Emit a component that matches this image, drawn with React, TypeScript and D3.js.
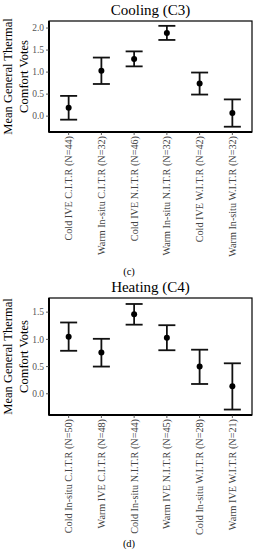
import React from "react";
import * as d3 from "d3";

const coolingCategories = [
  "Cold IVE C.I.T.R (N=44)",
  "Warm In-situ C.I.T.R (N=32)",
  "Cold IVE N.I.T.R (N=46)",
  "Warm In-situ N.I.T.R (N=32)",
  "Cold IVE W.I.T.R (N=42)",
  "Warm In-situ W.I.T.R (N=32)",
];
const coolingMeans = [0.19, 1.03, 1.3, 1.89, 0.74, 0.07];
const coolingLower = [-0.08, 0.73, 1.13, 1.73, 0.49, -0.24];
const coolingUpper = [0.46, 1.33, 1.47, 2.05, 0.99, 0.38];
const coolingTicks = [0.0, 0.5, 1.0, 1.5, 2.0];

const heatingCategories = [
  "Cold In-situ C.I.T.R (N=50)",
  "Warm IVE C.I.T.R (N=48)",
  "Cold In-situ N.I.T.R (N=44)",
  "Warm IVE N.I.T.R (N=45)",
  "Cold In-situ W.I.T.R (N=28)",
  "Warm IVE W.I.T.R (N=21)",
];
const heatingMeans = [1.05, 0.76, 1.46, 1.03, 0.5, 0.14];
const heatingLower = [0.79, 0.5, 1.27, 0.8, 0.18, -0.29];
const heatingUpper = [1.31, 1.01, 1.65, 1.26, 0.81, 0.56];
const heatingTicks = [0.0, 0.5, 1.0, 1.5];

const FONT = "'Liberation Serif', 'Times New Roman', 'DejaVu Serif', serif";

type PanelProps = {
  title: string;
  caption: string;
  categories: string[];
  means: number[];
  lower: number[];
  upper: number[];
  ticks: number[];
  domain: [number, number];
  top: number;
  bottom: number;
  titleY: number;
  captionY: number;
};

function Panel(p: PanelProps) {
  const left = 49;
  const right = 252;
  const x = d3.scalePoint<string>().domain(p.categories).range([left, right]).padding(0.6);
  const y = d3.scaleLinear().domain(p.domain).range([p.bottom, p.top]);
  const cx = (left + right) / 2;
  const cy = (p.top + p.bottom) / 2;
  const cap = 8.5;
  return (
    <g>
      <text x={cx} y={p.titleY} textAnchor="middle" fontSize={15} fontFamily={FONT} fill="#000">
        {p.title}
      </text>
      <rect x={left} y={p.top} width={right - left} height={p.bottom - p.top} fill="none" stroke="#000" strokeWidth={1.2} />
      <line x1={left} x2={left} y1={p.top} y2={p.bottom + 0.5} stroke="#000" strokeWidth={2} />
      <line x1={left} x2={right} y1={p.bottom} y2={p.bottom} stroke="#000" strokeWidth={2} />
      {p.ticks.map((t) => (
        <g key={t}>
          <line x1={left - 3} x2={left} y1={y(t)} y2={y(t)} stroke="#333" strokeWidth={0.8} />
          <text x={left - 5} y={y(t)} dy="0.35em" textAnchor="end" fontSize={9.5} fontFamily={FONT} fill="#555">
            {t.toFixed(1)}
          </text>
        </g>
      ))}
      <text
        transform={`translate(12,${cy}) rotate(-90)`}
        textAnchor="middle"
        fontSize={12.5}
        fontFamily={FONT}
        fill="#000"
      >
        <tspan x={0} dy={0}>Mean General Thermal</tspan>
        <tspan x={0} dy={16}>Comfort Votes</tspan>
      </text>
      {p.categories.map((c, i) => {
        const px = x(c) as number;
        return (
          <g key={c}>
            <line x1={px} x2={px} y1={p.bottom} y2={p.bottom + 3} stroke="#333" strokeWidth={0.8} />
            <text
              transform={`translate(${px},${p.bottom + 4}) rotate(-90)`}
              textAnchor="end"
              dy="0.35em"
              fontSize={10.2}
              fontFamily={FONT}
              fill="#444"
            >
              {c}
            </text>
            <line x1={px} x2={px} y1={y(p.lower[i])} y2={y(p.upper[i])} stroke="#111" strokeWidth={1.8} />
            <line x1={px - cap} x2={px + cap} y1={y(p.lower[i])} y2={y(p.lower[i])} stroke="#111" strokeWidth={1.8} />
            <line x1={px - cap} x2={px + cap} y1={y(p.upper[i])} y2={y(p.upper[i])} stroke="#111" strokeWidth={1.8} />
            <circle cx={px} cy={y(p.means[i])} r={3} fill="#000" />
          </g>
        );
      })}
      <text x={129} y={p.captionY} textAnchor="middle" fontSize={10.5} fontFamily={FONT} fill="#000">
        {p.caption}
      </text>
    </g>
  );
}

export default function App() {
  return (
    <svg
      width={259}
      height={550}
      style={{ position: "absolute", left: 0, top: 0, background: "#fff" }}
    >
      <rect width={259} height={550} fill="#fff" />
      <Panel
        title="Cooling (C3)"
        caption="(c)"
        categories={coolingCategories}
        means={coolingMeans}
        lower={coolingLower}
        upper={coolingUpper}
        ticks={coolingTicks}
        domain={[-0.36, 2.16]}
        top={21}
        bottom={132}
        titleY={15}
        captionY={275}
      />
      <Panel
        title="Heating (C4)"
        caption="(d)"
        categories={heatingCategories}
        means={heatingMeans}
        lower={heatingLower}
        upper={heatingUpper}
        ticks={heatingTicks}
        domain={[-0.39, 1.76]}
        top={298}
        bottom={415}
        titleY={292}
        captionY={547}
      />
    </svg>
  );
}
